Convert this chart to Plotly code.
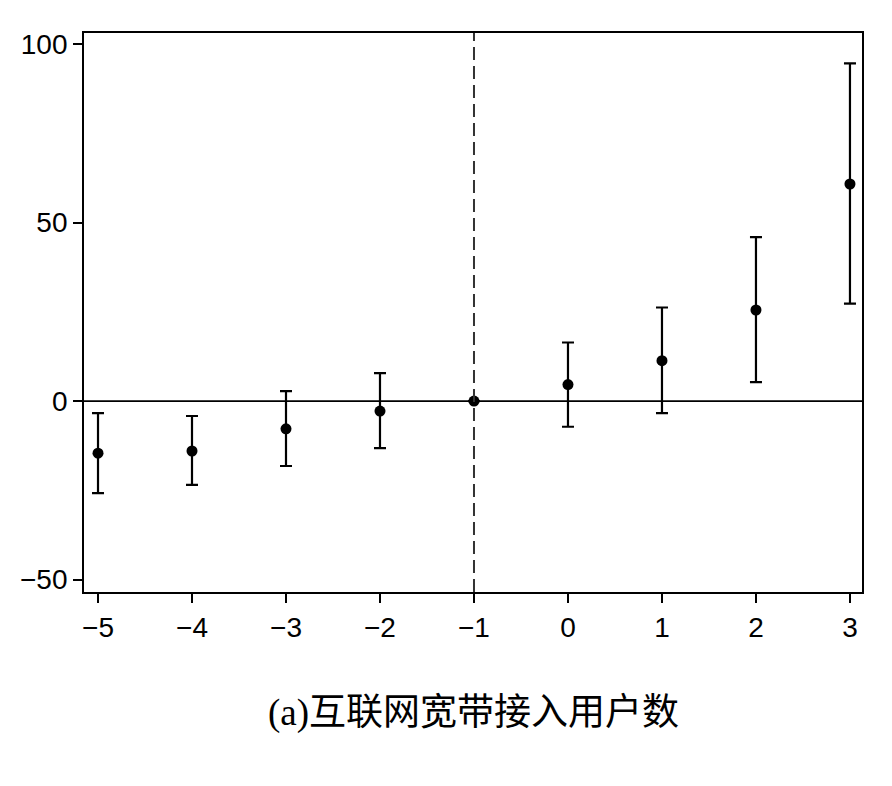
import plotly.graph_objects as go

periods = [-5, -4, -3, -2, -1, 0, 1, 2, 3]
coef = [-14.6, -14.0, -7.8, -2.8, 0.0, 4.6, 11.3, 25.5, 60.8]
upper = [-3.4, -4.2, 2.8, 7.8, 0.0, 16.4, 26.2, 45.9, 94.6]
lower = [-25.8, -23.5, -18.2, -13.2, 0.0, -7.2, -3.4, 5.3, 27.3]
xticks = [-5, -4, -3, -2, -1, 0, 1, 2, 3]
yticks = [-50, 0, 50, 100]
caption = "(a)互联网宽带接入用户数"

err_plus = [u - c for u, c in zip(upper, coef)]
err_minus = [c - l for c, l in zip(coef, lower)]

fig = go.Figure()
fig.add_trace(go.Scatter(
    x=periods, y=coef, mode="markers",
    marker=dict(color="black", size=11),
    error_y=dict(type="data", symmetric=False, array=err_plus, arrayminus=err_minus,
                 color="black", thickness=2.2, width=6),
    showlegend=False,
))
fig.add_hline(y=0, line=dict(color="black", width=1.8))
fig.add_vline(x=-1, line=dict(color="#333333", width=2, dash="13px,6px"))

tickfont = dict(family="Liberation Sans, Arial", size=28, color="black")
fig.update_layout(
    width=884, height=778,
    margin=dict(l=76, r=30, t=25, b=194, autoexpand=False),
    paper_bgcolor="white", plot_bgcolor="white",
    font=dict(family="Liberation Sans, Arial", size=28, color="black"),
    xaxis=dict(range=[-5.149, 3.128], tickvals=xticks, ticktext=[str(v).replace("-", "\u2212") for v in xticks],
               tickfont=tickfont,
               showline=True, linecolor="black", linewidth=1.8, mirror=True,
               ticks="outside", ticklen=9, tickwidth=1.8, tickcolor="black",
               showgrid=False, zeroline=False),
    yaxis=dict(range=[-53.5, 103.1], tickvals=yticks, ticktext=[str(v).replace("-", "\u2212") for v in yticks],
               tickfont=tickfont,
               showline=True, linecolor="black", linewidth=1.8, mirror=True,
               ticks="outside", ticklen=9, tickwidth=1.8, tickcolor="black",
               showgrid=False, zeroline=False),
)
fig.add_annotation(text=caption, xref="paper", yref="paper", x=0.5, y=-0.216,
                   xanchor="center", yanchor="middle", showarrow=False,
                   font=dict(family="Liberation Serif, Noto Sans CJK SC", size=37, color="black"))
fig.write_html("out.html")
